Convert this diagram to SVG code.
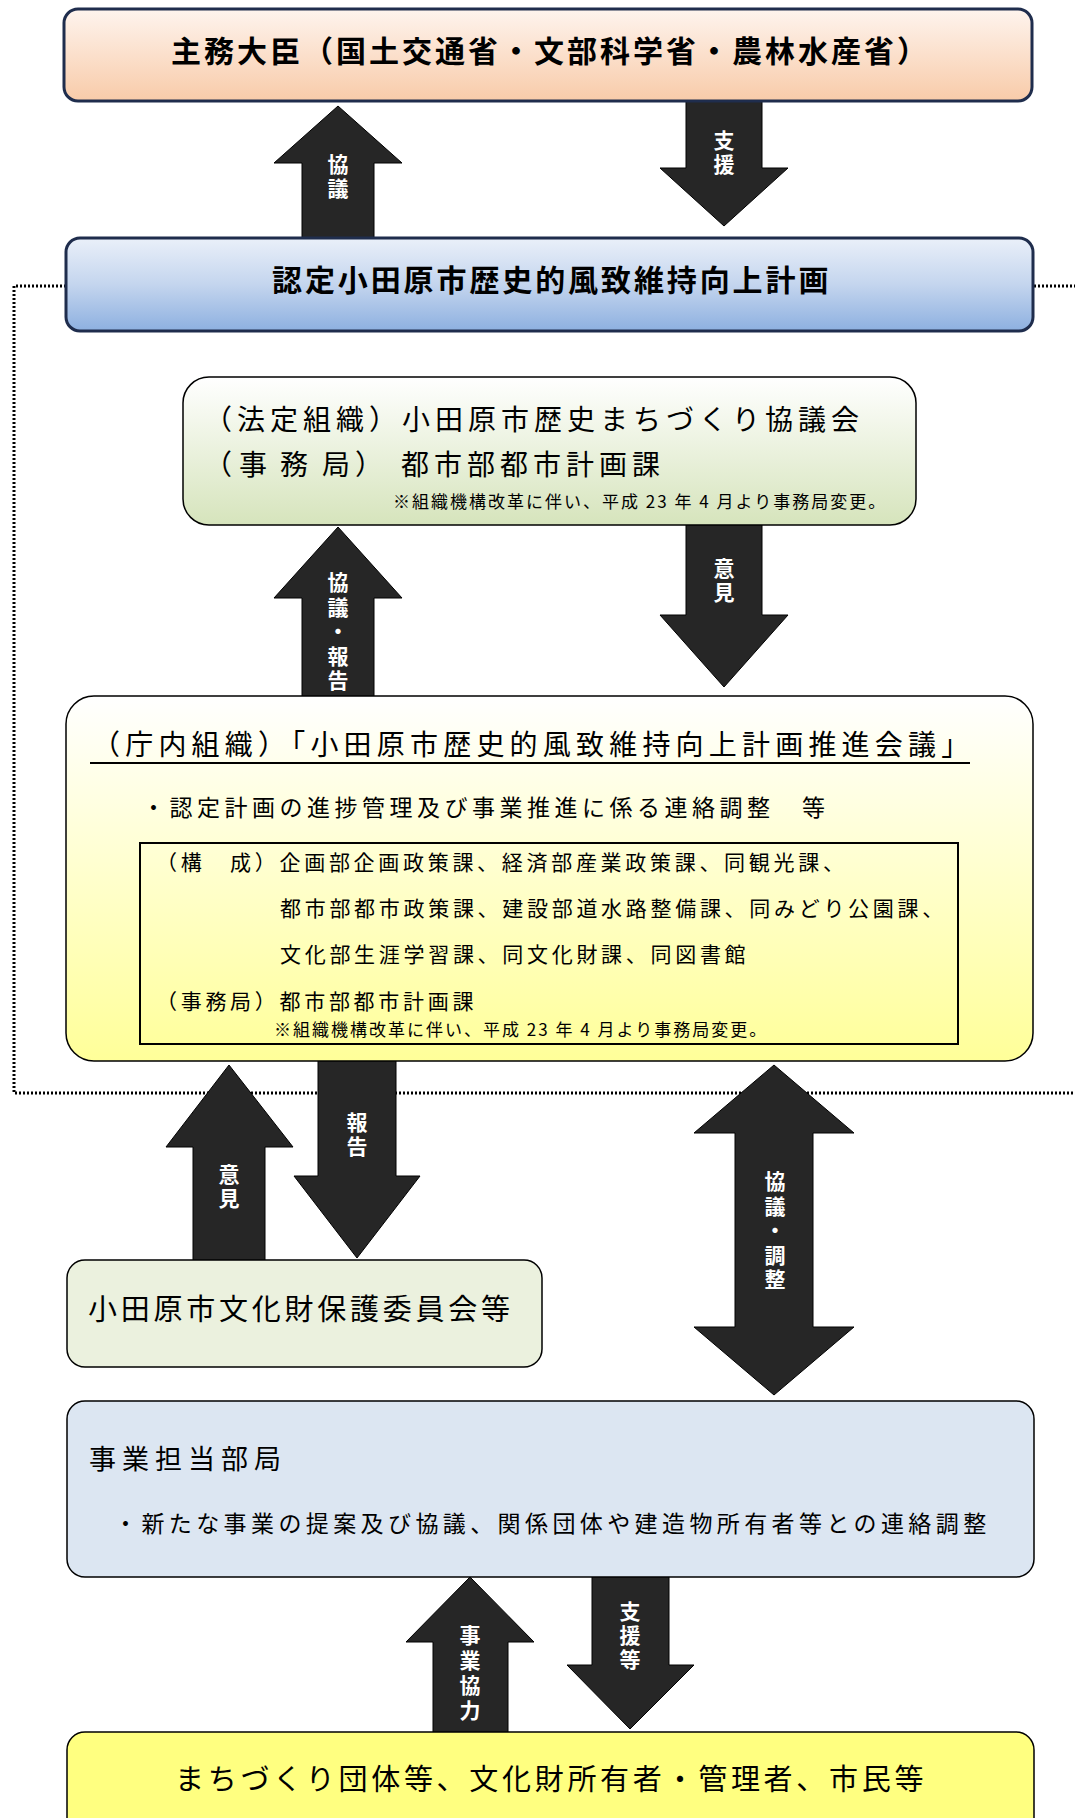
<svg xmlns="http://www.w3.org/2000/svg" width="1075" height="1818" viewBox="0 0 1075 1818">
<defs>
<linearGradient id="gPeach" x1="0" y1="0" x2="0" y2="1"><stop offset="0" stop-color="#FEF4EE"/><stop offset="1" stop-color="#F8CBA9"/></linearGradient>
<linearGradient id="gBlue" x1="0" y1="0" x2="0" y2="1"><stop offset="0" stop-color="#EAF0F9"/><stop offset="0.5" stop-color="#C4D5EE"/><stop offset="1" stop-color="#8DB0E0"/></linearGradient>
<linearGradient id="gGreen" x1="0" y1="0" x2="0" y2="1"><stop offset="0" stop-color="#FFFFFF"/><stop offset="1" stop-color="#D6E4BC"/></linearGradient>
<linearGradient id="gYellow" x1="0" y1="0" x2="0" y2="1"><stop offset="0" stop-color="#FFFFFF"/><stop offset="1" stop-color="#FFFF99"/></linearGradient>
</defs>
<style>
.t{font-family:"Noto Sans CJK JP","Noto Sans CJK SC",sans-serif;fill:#000}
.b{font-weight:bold}
.lbl{font-family:"Noto Sans CJK JP","Noto Sans CJK SC",sans-serif;font-weight:bold;font-size:21px;fill:#fff;text-anchor:middle;writing-mode:vertical-rl;letter-spacing:3px}
.arr{fill:#262626;stroke:#000;stroke-width:1}
.navy{stroke:#1F2D4D;stroke-width:3}
.blk{stroke:#000;stroke-width:1.5}
.dot{fill:none;stroke:#000;stroke-width:3;stroke-dasharray:2 2}
</style>

<g id="connectors">
<path class="dot" d="M66,286 H14 V1093 H1075"/>
<path class="dot" d="M1034,286 H1075"/>
<g id="a1"><path class="arr" d="M338,106 L402,163 L374,163 L374,240 L302,240 L302,163 L274,163 Z"/>
<text class="lbl" x="338" y="178">協議</text></g>
<g id="a2"><path class="arr" d="M686,98 L762,98 L762,168 L788,168 L724,226 L660,168 L686,168 Z"/>
<text class="lbl" x="724" y="154">支援</text></g>
<g id="a3"><path class="arr" d="M338,527 L402,598 L374,598 L374,700 L302,700 L302,598 L274,598 Z"/>
<text class="lbl" x="338" y="633" style="letter-spacing:3.5px">協議・報告</text></g>
<g id="a4"><path class="arr" d="M686,520 L762,520 L762,615 L788,615 L724,687 L660,615 L686,615 Z"/>
<text class="lbl" x="724" y="582">意見</text></g>
<g id="a5"><path class="arr" d="M229,1065 L293,1147 L265,1147 L265,1263 L193,1263 L193,1147 L166,1147 Z"/>
<text class="lbl" x="229" y="1188">意見</text></g>
<g id="a6"><path class="arr" d="M318,1058 L396,1058 L396,1176 L420,1176 L357,1258 L294,1176 L318,1176 Z"/>
<text class="lbl" x="357" y="1136">報告</text></g>
<g id="a7"><path class="arr" d="M774,1065 L854,1133 L813,1133 L813,1327 L854,1327 L774,1395 L694,1327 L735,1327 L735,1133 L694,1133 Z"/>
<text class="lbl" x="775" y="1232" style="letter-spacing:3.5px">協議・調整</text></g>
<g id="a8"><path class="arr" d="M470,1577 L534,1642 L508,1642 L508,1735 L433,1735 L433,1642 L406,1642 Z"/>
<text class="lbl" x="470" y="1675" style="letter-spacing:4px">事業協力</text></g>
<g id="a9"><path class="arr" d="M592,1574 L669,1574 L669,1665 L694,1665 L630,1729 L567,1665 L592,1665 Z"/>
<text class="lbl" x="630" y="1637">支援等</text></g>
</g>

<g id="minister">
<rect x="64" y="9" width="968" height="92" rx="14" fill="url(#gPeach)" class="navy"/>
<text class="t b" x="171" y="62" font-size="30" letter-spacing="3">主務大臣（国土交通省・文部科学省・農林水産省）</text>
</g>

<g id="plan">
<rect x="66" y="238" width="967" height="93" rx="14" fill="url(#gBlue)" class="navy"/>
<text class="t b" x="272" y="291" font-size="30" letter-spacing="2.9">認定小田原市歴史的風致維持向上計画</text>
</g>

<g id="council">
<rect x="183" y="377" width="733" height="148" rx="26" fill="url(#gGreen)" class="blk"/>
<text class="t" x="204" y="430" font-size="28" letter-spacing="5">（法定組織）小田原市歴史まちづくり協議会</text>
<text class="t" y="475" font-size="28"><tspan x="204">（</tspan><tspan x="239">事</tspan><tspan x="280">務</tspan><tspan x="322">局</tspan><tspan x="355">）</tspan><tspan x="401" letter-spacing="5">都市部都市計画課</tspan></text>
<text class="t" x="393" y="508" font-size="17" letter-spacing="2">※組織機構改革に伴い、平成 23 年 4 月より事務局変更。</text>
</g>

<g id="promotion">
<rect x="66" y="696" width="967" height="365" rx="28" fill="url(#gYellow)" class="blk"/>
<text class="t" x="92" y="755" font-size="28" letter-spacing="5.2">（庁内組織）「小田原市歴史的風致維持向上計画推進会議」</text>
<line x1="90" y1="763" x2="970" y2="763" stroke="#000" stroke-width="2"/>
<text class="t" x="142" y="816" font-size="23" letter-spacing="4.5">・認定計画の進捗管理及び事業推進に係る連絡調整　等</text>
<rect x="140" y="843" width="818" height="201" fill="none" stroke="#000" stroke-width="2"/>
<text class="t" x="156" y="870" font-size="21" letter-spacing="3.7">（構　成）企画部企画政策課、経済部産業政策課、同観光課、</text>
<text class="t" x="280" y="916" font-size="21" letter-spacing="3.7">都市部都市政策課、建設部道水路整備課、同みどり公園課、</text>
<text class="t" x="280" y="962" font-size="21" letter-spacing="3.7">文化部生涯学習課、同文化財課、同図書館</text>
<text class="t" x="156" y="1009" font-size="21" letter-spacing="3.7">（事務局）都市部都市計画課</text>
<text class="t" x="274" y="1036" font-size="17" letter-spacing="2">※組織機構改革に伴い、平成 23 年 4 月より事務局変更。</text>
</g>

<g id="committee">
<rect x="67" y="1260" width="475" height="107" rx="18" fill="#EBF1DE" class="blk"/>
<text class="t" x="88" y="1320" font-size="29" letter-spacing="3.75">小田原市文化財保護委員会等</text>
</g>

<g id="department">
<rect x="67" y="1401" width="967" height="176" rx="18" fill="#DCE6F2" class="blk"/>
<text class="t" x="89" y="1469" font-size="27" letter-spacing="6">事業担当部局</text>
<text class="t" x="114" y="1532" font-size="23" letter-spacing="4.4">・新たな事業の提案及び協議、関係団体や建造物所有者等との連絡調整</text>
</g>

<g id="citizens">
<rect x="67" y="1732" width="967" height="130" rx="18" fill="#FFFF80" class="blk"/>
<text class="t" x="175" y="1790" font-size="29" letter-spacing="3.7">まちづくり団体等、文化財所有者・管理者、市民等</text>
</g>
</svg>
